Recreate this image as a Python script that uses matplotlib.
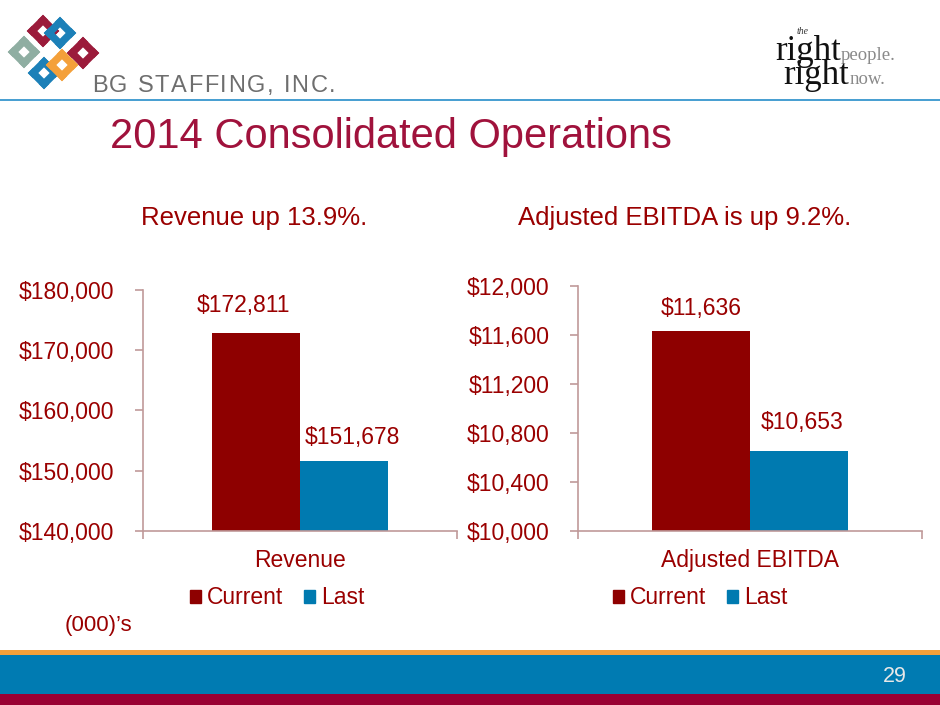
import numpy as np
import matplotlib
matplotlib.use("Agg")
import matplotlib.pyplot as plt
from matplotlib.patches import Polygon, Rectangle, Patch
from matplotlib.font_manager import FontProperties, findfont
from matplotlib.ft2font import FT2Font

# ---- data ----
series_names = ["Current", "Last"]
rev_category = ["Revenue"]
rev_values = [172811, 151678]
rev_ticks = [140000, 150000, 160000, 170000, 180000]
ebitda_category = ["Adjusted EBITDA"]
ebitda_values = [11636, 10653]
ebitda_ticks = [10000, 10400, 10800, 11200, 11600, 12000]

title = "2014 Consolidated Operations"
sub_left = "Revenue up 13.9%."
sub_right = "Adjusted EBITDA is up 9.2%."
units_note = "(000)\u2019s"
page_no = "29"
company = "BG STAFFING, INC."

# ---- styles ----
C_CUR = "#8E0000"
C_LAST = "#007AB0"
C_TXT = "#9A0000"
C_TITLE = "#A0123C"
C_AXIS = "#C09A9A"
FONT = "Liberation Sans"

plt.rcParams['font.family'] = [FONT, 'DejaVu Sans']

W, H = 940, 705
fig = plt.figure(figsize=(W / 100, H / 100), dpi=100)

# background axes in pixel coordinates
bg = fig.add_axes([0, 0, 1, 1])
bg.set_xlim(0, W)
bg.set_ylim(H, 0)
bg.axis("off")

# header line
bg.add_patch(Rectangle((0, 98.5), W, 2.2, color="#4AA0D2", lw=0))
# footer bands
bg.add_patch(Rectangle((0, 650), W, 5.5, color="#F4A03A", lw=0))
bg.add_patch(Rectangle((0, 655), W, 39.5, color="#007BB2", lw=0))
bg.add_patch(Rectangle((0, 694), W, 11, color="#990033", lw=0))


def frame(ax, cx, cy, a, b, t, color):
    s = 1 / np.sqrt(2)

    def P(u, v):
        return (cx + (u + v) * s, cy + (u - v) * s)

    bars = [(-a, a, b - t, b), (-a, a, -b, -b + t),
            (-a, -a + t, -b, b), (a - t, a, -b, b)]
    for u0, u1, v0, v1 in bars:
        ax.add_patch(Polygon([P(u0, v0), P(u1, v0), P(u1, v1), P(u0, v1)],
                             closed=True, color=color, lw=0))


# logo knot (approximation)
frame(bg, 24, 52, 11.5, 11.5, 7.5, "#8FAEA2")
frame(bg, 43, 31, 11.5, 11.5, 7.5, "#9B1B3B")
frame(bg, 83, 53, 11.5, 11.5, 7.5, "#9B1B3B")
frame(bg, 60, 33, 11.5, 11.5, 7.5, "#1C80B8")
frame(bg, 44, 73, 11.5, 11.5, 7.5, "#1C80B8")
frame(bg, 62, 65, 11.5, 11.5, 7.5, "#F4A03A")

# letter-spaced company name
fp = FontProperties(family=FONT, size=17)
ft = FT2Font(findfont(fp))
ft.set_size(17, 100)
xpos = 92.0
for ch in company:
    bg.text(xpos, 92, ch, fontsize=17, color="#6E6E6E", ha="left",
            va="baseline", family=FONT)
    g = ft.load_char(ord(ch))
    xpos += g.linearHoriAdvance / 65536.0 + 1.6

# right logo
bg.text(775, 60, "right", fontsize=25, color="#111111", family="Liberation Serif",
        ha="left", va="baseline")
bg.text(841, 60, "people.", fontsize=13.5, color="#8A8A8A", family="Liberation Serif",
        ha="left", va="baseline")
bg.text(797, 34, "the", fontsize=7, color="#333333", family="Liberation Serif",
        style="italic", ha="left", va="baseline")
bg.text(783, 84, "right", fontsize=25, color="#111111", family="Liberation Serif",
        ha="left", va="baseline")
bg.text(850, 84, "now.", fontsize=13.5, color="#8A8A8A", family="Liberation Serif",
        ha="left", va="baseline")

# titles
bg.text(110, 137, title, fontsize=30, color=C_TITLE, ha="left", va="center")
bg.text(254, 218, sub_left, fontsize=18.5, color=C_TXT, ha="center", va="center")
bg.text(685, 218, sub_right, fontsize=18.5, color=C_TXT, ha="center", va="center")
bg.text(65, 625, units_note, fontsize=16, color=C_TXT, ha="left", va="center")
bg.text(907, 677, page_no, fontsize=15.5, color="#E8E8E8", ha="right", va="center")


def px_rect(x0, y0, x1, y1):
    return [x0 / W, 1 - y1 / H, (x1 - x0) / W, (y1 - y0) / H]


def bar_chart(rect, cats, values, ticks, fmt, width, label_offsets, legend_xy):
    ax = fig.add_axes(rect)
    ax.set_facecolor("none")
    x = np.arange(len(cats))
    ax.bar(x - width / 2, [values[0]], width, color=C_CUR, label=series_names[0])
    ax.bar(x + width / 2, [values[1]], width, color=C_LAST, label=series_names[1])
    ax.set_xlim(-0.5, len(cats) - 0.5)
    ax.set_ylim(ticks[0], ticks[-1])
    ax.set_yticks(ticks)
    ax.set_yticklabels([fmt(t) for t in ticks])
    ax.set_xticks([-0.5, len(cats) - 0.5])
    ax.set_xticklabels(["", ""])
    ax.set_xticks(x, minor=True)
    ax.set_xticklabels(cats, minor=True)
    for s in ["top", "right"]:
        ax.spines[s].set_visible(False)
    for s in ["left", "bottom"]:
        ax.spines[s].set_color(C_AXIS)
        ax.spines[s].set_linewidth(1.2)
    ax.tick_params(axis="both", which="major", color=C_AXIS, length=5.5, width=1.2,
                   labelcolor=C_TXT, labelsize=16.5, direction="out")
    ax.tick_params(axis="y", pad=15)
    ax.tick_params(axis="x", which="minor", length=0, labelcolor=C_TXT,
                   labelsize=16.5, pad=13)
    for xi, v, off in zip([x[0] - width / 2, x[0] + width / 2], values, label_offsets):
        ax.annotate(fmt(v), (xi, v), xytext=off, textcoords="offset points",
                    ha="center", va="bottom", color=C_TXT, fontsize=16.5)
    handles = [Patch(color=C_CUR, label=series_names[0]),
               Patch(color=C_LAST, label=series_names[1])]
    fig.legend(handles=handles, loc="center", ncol=2, frameon=False,
               bbox_to_anchor=(legend_xy[0] / W, 1 - legend_xy[1] / H),
               fontsize=16.5, labelcolor=C_TXT, handlelength=0.5,
               handleheight=0.5, handletextpad=0.25, columnspacing=0.9,
               borderpad=0, borderaxespad=0)
    return ax


money = lambda v: "${:,.0f}".format(v)

bar_chart(px_rect(143, 290, 457, 531), rev_category, rev_values, rev_ticks, money,
          0.28, [(-9, 12), (6, 8.5)], (277, 598))
bar_chart(px_rect(578, 286, 922, 531), ebitda_category, ebitda_values, ebitda_ticks,
          money, 0.285, [(0, 7.5), (2, 12.5)], (700, 598))

fig.savefig("out.png", dpi=100)
